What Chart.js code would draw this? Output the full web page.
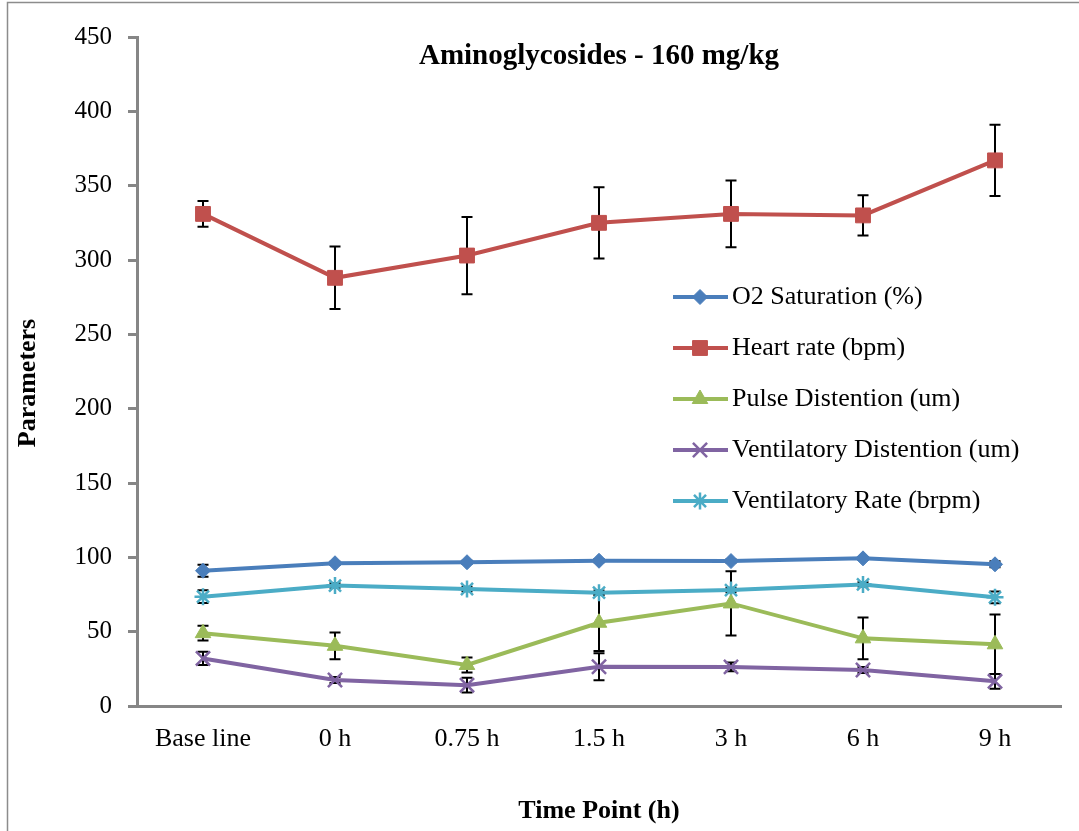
<!DOCTYPE html>
<html>
<head>
<meta charset="utf-8">
<title>Aminoglycosides - 160 mg/kg</title>
<script src="https://cdn.jsdelivr.net/npm/chart.js"></script>
<style>
  body { margin: 0; background: #fff; overflow: hidden; }
  .chart-box { position: relative; width: 1079px; height: 831px; }
</style>
</head>
<body>
<div class="chart-box">
  <canvas id="aminoChart"></canvas>
</div>
<script>
const timeLabels = ["Base line", "0 h", "0.75 h", "1.5 h", "3 h", "6 h", "9 h"];
const yTicks = [0, 50, 100, 150, 200, 250, 300, 350, 400, 450];

const o2Saturation = [91, 96, 96.7, 97.7, 97.5, 99.3, 95.3];
const o2SaturationErr = [4, 1, 1, 1, 1, 1, 2];

const heartRate = [331, 288, 303, 325, 331, 330, 367];
const heartRateErr = [8.7, 21, 26, 24, 22.5, 13.5, 24];

const pulseDistention = [49, 40.5, 27.6, 56, 69, 45.5, 41.5];
const pulseDistentionErr = [5, 9, 5, 19, 21.6, 14, 20];

const ventDistention = [32, 17.5, 14, 26.4, 26.3, 24.2, 16.6];
const ventDistentionErr = [4.5, 2, 5, 9, 3, 2, 5];

const ventRate = [73.5, 81, 78.7, 76.2, 78, 81.8, 73.1];
const ventRateErr = [4.3, 1.5, 1.5, 1.5, 1.5, 1.5, 4];

const serif = "'Liberation Serif', 'Times New Roman', serif";
const axisGray = "#868686";

function series(label, data, err, color, style, radius, bw) {
  return {
    label: label,
    data: data,
    errors: err,
    borderColor: color,
    backgroundColor: color,
    borderWidth: 4,
    tension: 0,
    pointStyle: style,
    pointRadius: radius,
    pointBorderWidth: bw,
    pointBackgroundColor: color,
    pointBorderColor: color,
  };
}

// error bars go under the markers
const errorBars = {
  id: "errorBars",
  beforeDatasetsDraw(chart) {
    const ctx = chart.ctx;
    const x = chart.scales.x, y = chart.scales.y;
    ctx.save();
    ctx.strokeStyle = "#000";
    ctx.lineWidth = 2;
    chart.data.datasets.forEach((ds) => {
      ds.data.forEach((v, i) => {
        const e = ds.errors[i];
        if (!e) return;
        const px = x.getPixelForValue(i);
        const top = y.getPixelForValue(v + e);
        const bot = y.getPixelForValue(v - e);
        ctx.beginPath();
        ctx.moveTo(px, top); ctx.lineTo(px, bot);
        ctx.moveTo(px - 5.5, top); ctx.lineTo(px + 5.5, top);
        ctx.moveTo(px - 5.5, bot); ctx.lineTo(px + 5.5, bot);
        ctx.stroke();
      });
    });
    ctx.restore();
  },
};

// title + y title + legend inside the plot, outer frame
const extras = {
  id: "extras",
  afterDraw(chart) {
    const ctx = chart.ctx;
    const area = chart.chartArea;
    ctx.save();

    ctx.strokeStyle = "#8c8c8c";
    ctx.lineWidth = 1.5;
    ctx.beginPath();
    ctx.moveTo(7.5, chart.height); ctx.lineTo(7.5, 2.5); ctx.lineTo(chart.width, 2.5);
    ctx.stroke();

    ctx.fillStyle = "#000";
    ctx.font = "bold 29px " + serif;
    ctx.textAlign = "center";
    ctx.textBaseline = "alphabetic";
    ctx.fillText("Aminoglycosides - 160 mg/kg", (area.left + area.right) / 2, 64);

    // y axis title, a bit lower than the scale middle like the original
    ctx.save();
    ctx.translate(28, 383);
    ctx.rotate(-Math.PI / 2);
    ctx.font = "bold 26px " + serif;
    ctx.textBaseline = "middle";
    ctx.fillText("Parameters", 0, 0);
    ctx.restore();

    ctx.font = "26px " + serif;
    ctx.textAlign = "left";
    ctx.textBaseline = "middle";
    chart.data.datasets.forEach((ds, i) => {
      const ly = 297 + i * 51;
      ctx.strokeStyle = ds.borderColor;
      ctx.fillStyle = ds.borderColor;
      ctx.lineWidth = 4;
      ctx.beginPath();
      ctx.moveTo(673, ly); ctx.lineTo(728, ly);
      ctx.stroke();
      ctx.lineWidth = ds.pointBorderWidth;
      if (Chart.helpers && Chart.helpers.drawPoint) {
        Chart.helpers.drawPoint(ctx, {
          pointStyle: ds.pointStyle,
          radius: ds.pointRadius,
          borderWidth: ds.pointBorderWidth,
          rotation: 0,
        }, 700, ly);
      }
      ctx.fillStyle = "#000";
      ctx.fillText(ds.label, 732, ly);
    });
    ctx.restore();
  },
};

const ctx = document.getElementById("aminoChart").getContext("2d");
const aminoChart = new Chart(ctx, {
  type: "line",
  data: {
    labels: timeLabels,
    datasets: [
      series("O2 Saturation (%)", o2Saturation, o2SaturationErr, "#4A7EBB", "rectRot", 7.5, 1),
      series("Heart rate (bpm)", heartRate, heartRateErr, "#C0504D", "rect", 10.5, 1),
      series("Pulse Distention (um)", pulseDistention, pulseDistentionErr, "#9BBB59", "triangle", 9, 1),
      series("Ventilatory Distention (um)", ventDistention, ventDistentionErr, "#8064A2", "crossRot", 10, 2.5),
      series("Ventilatory Rate (brpm)", ventRate, ventRateErr, "#4BACC6", "star", 8.5, 2.5),
    ],
  },
  options: {
    responsive: true,
    maintainAspectRatio: false,
    animation: false,
    layout: { padding: { left: 12, top: 37, right: 18, bottom: 0 } },
    plugins: {
      legend: { display: false },
      tooltip: { enabled: false },
    },
    scales: {
      x: {
        offset: true,
        grid: { display: true, drawOnChartArea: false, drawTicks: false, offset: false },
        border: { display: true, color: axisGray, width: 3 },
        ticks: { color: "#000", font: { family: serif, size: 26 }, padding: 18, maxRotation: 0 },
        title: {
          display: true,
          text: "Time Point (h)",
          color: "#000",
          font: { family: serif, size: 26, weight: "bold" },
          padding: { top: 0, bottom: 4 },
        },
        afterFit: (scale) => { scale.height = 125; },
      },
      y: {
        min: 0,
        max: 450,
        afterBuildTicks: (scale) => { scale.ticks = yTicks.map((v) => ({ value: v })); },
        grid: { display: true, drawOnChartArea: false, drawTicks: true, tickLength: 9, color: axisGray, lineWidth: 3 },
        border: { display: true, color: axisGray, width: 3 },
        ticks: { color: "#000", font: { family: serif, size: 25 }, padding: 16 },
        afterFit: (scale) => { scale.width = 125; },
      },
    },
  },
  plugins: [errorBars, extras],
});
</script>
</body>
</html>
